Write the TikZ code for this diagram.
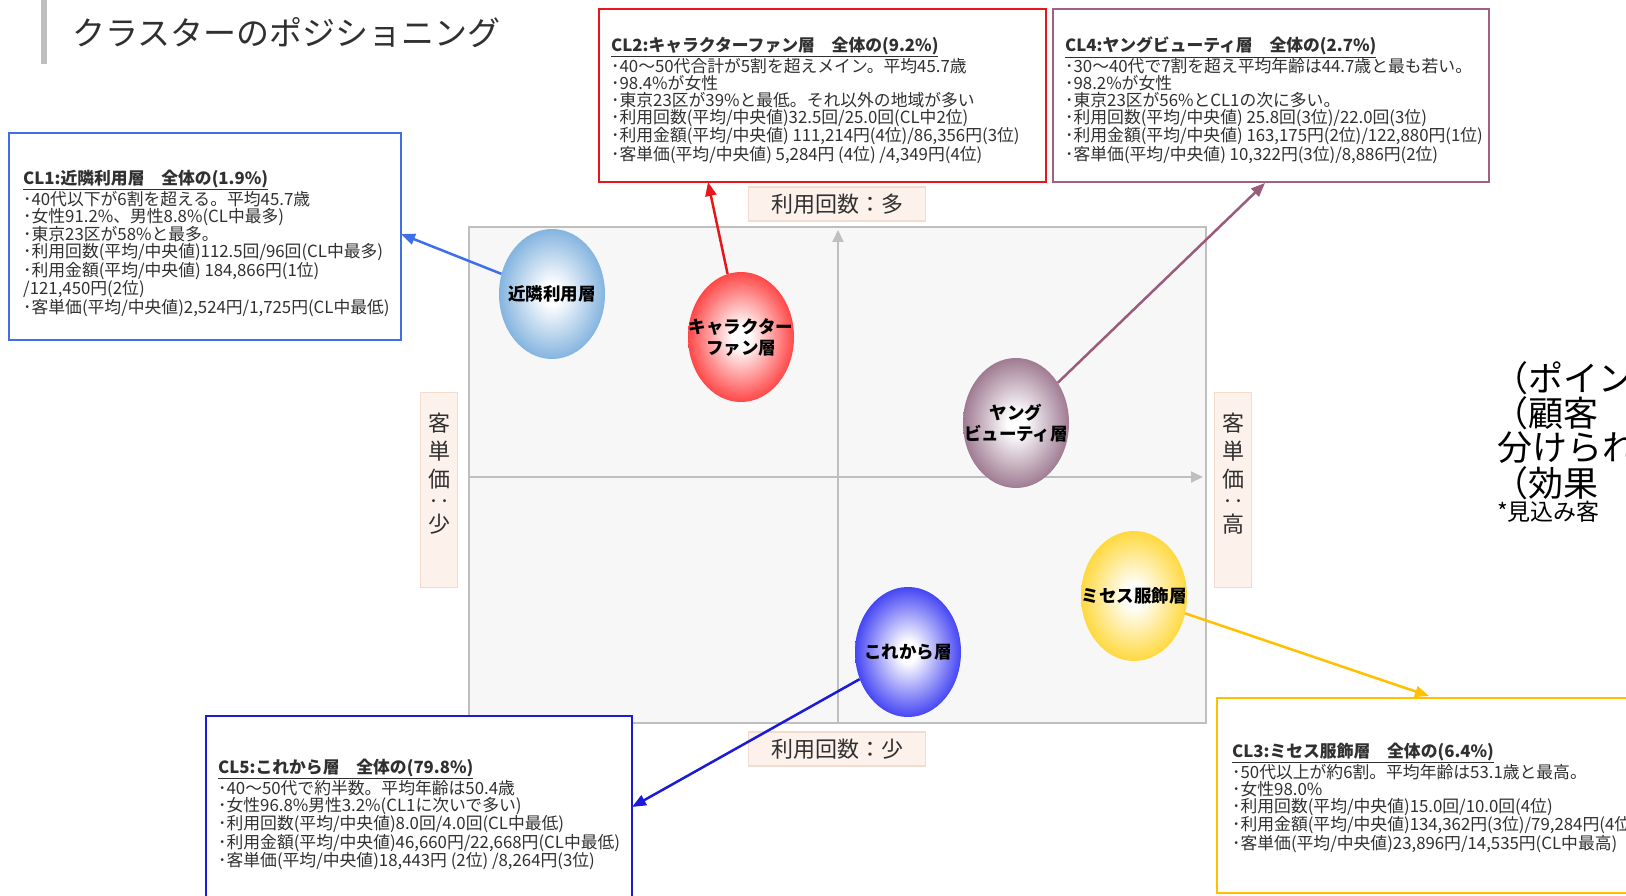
\documentclass[tikz,border=0pt]{standalone}
\usepackage{fontspec}
\setmainfont{Noto Sans CJK JP}
\usetikzlibrary{shapes.geometric,arrows.meta,calc}
\definecolor{cla}{HTML}{3F6FE8}
\definecolor{clb}{HTML}{E8161B}
\definecolor{clc}{HTML}{FFC000}
\definecolor{cld}{HTML}{A06080}
\definecolor{cle}{HTML}{1A1AD8}
\definecolor{linec}{HTML}{FFC000}
\definecolor{lined}{HTML}{9B5C7C}
\definecolor{labfill}{HTML}{FCF1EB}
\definecolor{labdraw}{HTML}{F2DCD0}
\definecolor{txtc}{HTML}{303030}
\definecolor{chartfill}{HTML}{F7F7F7}
\definecolor{chartdraw}{HTML}{BFBFBF}
\definecolor{ballA}{HTML}{5B9BD5}
\definecolor{ballB}{HTML}{FF0A0A}
\definecolor{ballC}{HTML}{FFCC00}
\definecolor{ballD}{HTML}{7F4F6E}
\definecolor{ballE}{HTML}{0808F0}
\colorlet{ballcol}{blue}
\pgfdeclareradialshading[ballcol]{cball}{\pgfpointorigin}{color(0bp)=(white); color(4bp)=(white); color(32bp)=(ballcol); color(50bp)=(ballcol)}
\tikzset{
  ball/.style={ellipse, minimum width=106pt, minimum height=130pt, inner sep=-40pt,
    /utils/exec={\colorlet{ballcol}{#1}}, shade, shading=cball, align=center,
    font=\fontsize{17.5}{21}\selectfont\bfseries, text=black},
  infobox/.style={draw=#1, line width=2.2pt, fill=white, inner sep=0pt},
  infotext/.style={anchor=north west, inner sep=0pt, align=left, text=txtc,
    font=\fontsize{16.8}{17}\selectfont},
  labbox/.style={fill=labfill, draw=labdraw, line width=1.5pt, inner sep=0pt,
    text=txtc, font=\fontsize{22}{24}\selectfont},
  vlab/.style={labbox, minimum width=37pt, minimum height=195pt},
  vtext/.style={inner sep=0pt, align=center, text=txtc, font=\fontsize{22}{28}\selectfont},
  hlab/.style={labbox, minimum width=177pt, minimum height=34pt},
  con/.style={draw=#1, line width=2.5pt, -{Triangle[length=14pt,width=11pt]}},
  axis/.style={draw=chartdraw, line width=2pt, -{Triangle[length=12pt,width=11pt]}},
  bigtxt/.style={anchor=west, inner sep=0pt, text=black, font=\fontsize{35}{36}\selectfont}
}
\newcommand{\cltitle}[1]{\underline{\bfseries #1}}
\begin{document}
\begin{tikzpicture}[x=1pt,y=-1pt]
\useasboundingbox (0,0) rectangle (1626,896);
\begin{scope}
\clip (0,0) rectangle (1626,896);
\fill[white] (0,0) rectangle (1626,896);
% title
\fill[chartdraw] (41,0) rectangle (47,64);
\node[anchor=west, inner sep=0pt, text=txtc, font=\fontsize{33}{36}\selectfont] (title) at (72,33) {クラスターのポジショニング};
% chart
\node[draw=chartdraw, fill=chartfill, line width=2pt, minimum width=737pt, minimum height=496pt, inner sep=0pt] (chart) at (837.5,475) {};
\coordinate (vbot) at (838,723);
\coordinate (vtop) at (838,230);
\coordinate (hleft) at (469,477);
\coordinate (hright) at (1203,477);
\draw[axis] (vbot) -- (vtop);
\draw[axis] (hleft) -- (hright);
% axis labels
\node[hlab] (ltop) at (837,204) {利用回数：多};
\node[hlab] (lbot) at (837,749) {利用回数：少};
\node[vlab] (lleft) at (439,490) {};
\node[vtext] (lleftt) at (439,474) {客\\単\\価\\[-6pt]‥\\[-5pt]少};
\node[vlab] (lright) at (1233,490) {};
\node[vtext] (lrightt) at (1233,474) {客\\単\\価\\[-6pt]‥\\[-5pt]高};
% info boxes
\node[infobox=cla, minimum width=392pt, minimum height=207pt, anchor=north west] (cl1) at (8,132) {};
\node[infotext] (cl1t) at (23,170) {\cltitle{CL1:近隣利用層　全体の(1.9\%)}\\
･40代以下が6割を超える。平均45.7歳\\
･女性91.2\%、男性8.8\%(CL中最多)\\
･東京23区が58\%と最多。\\
･利用回数(平均/中央値)112.5回/96回(CL中最多)\\
･利用金額(平均/中央値) 184,866円(1位)\\
/121,450円(2位)\\
･客単価(平均/中央値)2,524円/1,725円(CL中最低)};
\node[infobox=clb, minimum width=447pt, minimum height=173pt, anchor=north west] (cl2) at (598,8) {};
\node[infotext] (cl2t) at (611,37) {\cltitle{CL2:キャラクターファン層　全体の(9.2\%)}\\
･40～50代合計が5割を超えメイン。平均45.7歳\\
･98.4\%が女性\\
･東京23区が39\%と最低。それ以外の地域が多い\\
･利用回数(平均/中央値)32.5回/25.0回(CL中2位)\\
･利用金額(平均/中央値) 111,214円(4位)/86,356円(3位)\\
･客単価(平均/中央値) 5,284円 (4位) /4,349円(4位)};
\node[infobox=cld, minimum width=436pt, minimum height=173pt, anchor=north west] (cl4) at (1052,8) {};
\node[infotext] (cl4t) at (1065,37) {\cltitle{CL4:ヤングビューティ層　全体の(2.7\%)}\\
･30～40代で7割を超え平均年齢は44.7歳と最も若い。\\
･98.2\%が女性\\
･東京23区が56\%とCL1の次に多い。\\
･利用回数(平均/中央値) 25.8回(3位)/22.0回(3位)\\
･利用金額(平均/中央値) 163,175円(2位)/122,880円(1位)\\
･客単価(平均/中央値) 10,322円(3位)/8,886円(2位)};
\node[infobox=cle, minimum width=426pt, minimum height=200pt, anchor=north west] (cl5) at (205,715) {};
\node[infotext] (cl5t) at (218,759) {\cltitle{CL5:これから層　全体の(79.8\%)}\\
･40～50代で約半数。平均年齢は50.4歳\\
･女性96.8\%男性3.2\%(CL1に次いで多い)\\
･利用回数(平均/中央値)8.0回/4.0回(CL中最低)\\
･利用金額(平均/中央値)46,660円/22,668円(CL中最低)\\
･客単価(平均/中央値)18,443円 (2位) /8,264円(3位)};
\node[infobox=clc, minimum width=440pt, minimum height=195pt, anchor=north west] (cl3) at (1216,697) {};
\node[infotext] (cl3t) at (1232,743) {\cltitle{CL3:ミセス服飾層　全体の(6.4\%)}\\
･50代以上が約6割。平均年齢は53.1歳と最高。\\
･女性98.0\%\\
･利用回数(平均/中央値)15.0回/10.0回(4位)\\
･利用金額(平均/中央値)134,362円(3位)/79,284円(4位)\\
･客単価(平均/中央値)23,896円/14,535円(CL中最高)};
% bubbles
\node[ball=ballA] (kin) at (552,294) {近隣利用層};
\node[ball=ballB] (chara) at (741,337) {キャラクター\\ファン層};
\node[ball=ballD] (young) at (1016,423) {ヤング\\ビューティ層};
\node[ball=ballC] (mrs) at (1134,596) {ミセス服飾層};
\node[ball=ballE] (kore) at (908,652) {これから層};
% connector tips
\coordinate (t1) at (401,234);
\coordinate (t2) at (708,182);
\coordinate (t4) at (1265,183);
\coordinate (t3) at (1429,696);
\coordinate (t5) at (632,807);
\draw[con=cla] (kin) -- (t1);
\draw[con=clb] (chara) -- (t2);
\draw[con=lined] (young) -- (t4);
\draw[con=linec] (mrs) -- (t3);
\draw[con=cle] (kore) -- (t5);
% right text (cut at the edge, as in the reference)
\node[bigtxt] (r1) at (1493,378) {（ポイン};
\node[bigtxt] (r2) at (1493,413) {（顧客};
\node[bigtxt] (r3) at (1497,448) {分けられ};
\node[bigtxt] (r4) at (1493,483) {（効果};
\node[anchor=west, inner sep=0pt, font=\fontsize{23}{24}\selectfont] (r5) at (1497,512) {*見込み客};
\end{scope}
\end{tikzpicture}
\end{document}
